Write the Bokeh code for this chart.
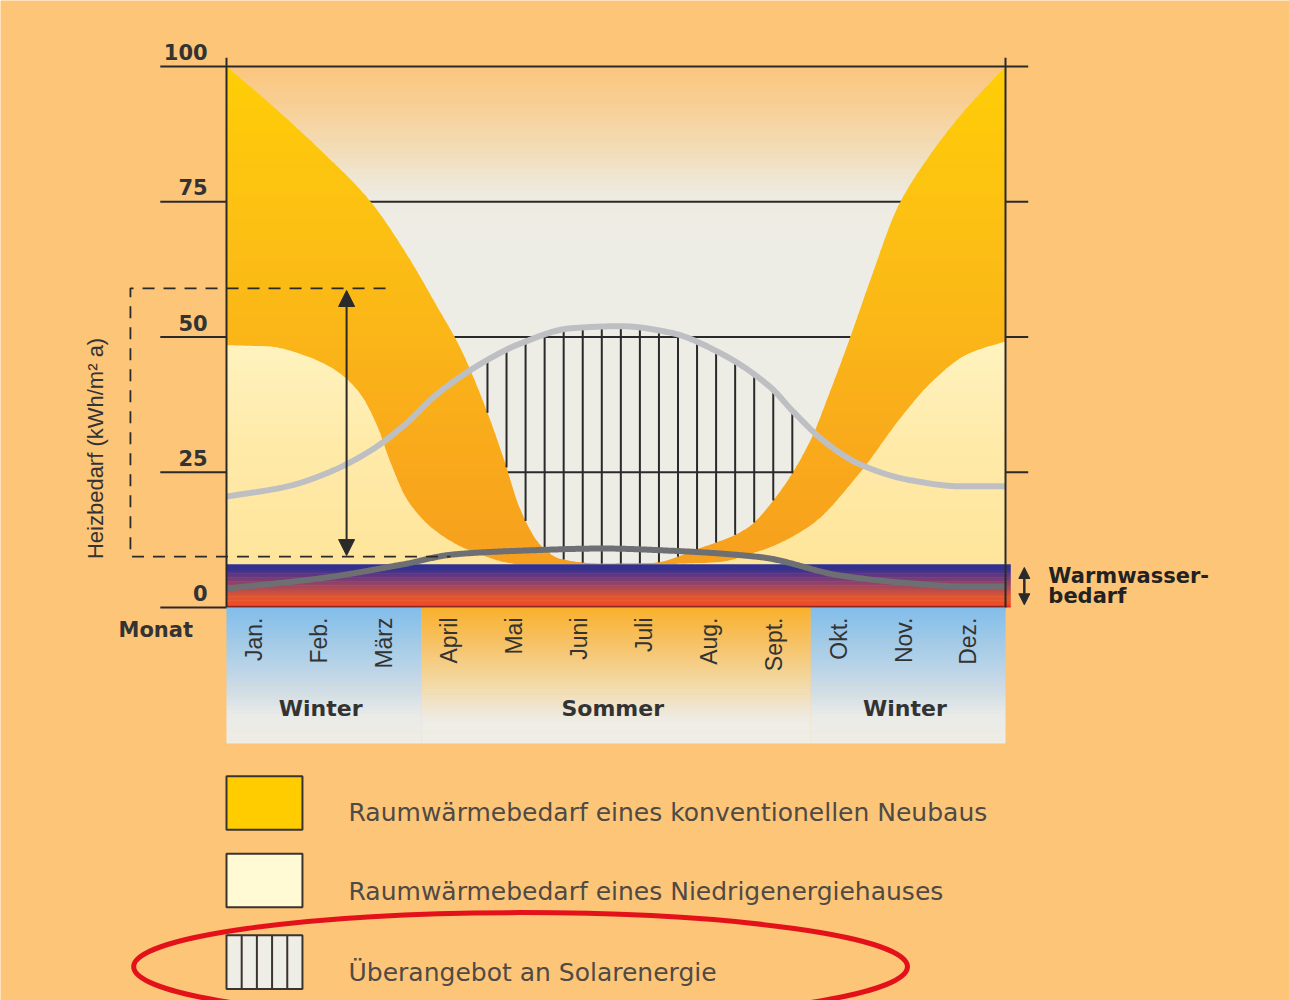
import numpy as np
from bokeh.plotting import figure
from bokeh.models import Arrow, NormalHead
from bokeh.core.properties import value
from bokeh.embed import file_html
from bokeh.resources import INLINE

# ------------------------------------------------------------------ data
months = ["Jan.", "Feb.", "März", "April", "Mai", "Juni", "Juli", "Aug.",
          "Sept.", "Okt.", "Nov.", "Dez."]
season_names = ["Winter", "Sommer", "Winter"]
season_bounds = [0, 3, 9, 12]
tick_values = [0, 25, 50, 75, 100]
tick_labels = ["0", "25", "50", "75", "100"]

# Raumwärmebedarf eines konventionellen Neubaus (x in months from 1 Jan)
neubau_x = [0, 0.68, 1.45, 2.22, 2.79, 3.25, 3.60, 4.02, 4.27, 4.53, 4.84, 5.14,
            5.76, 6.53, 7.30, 8.0, 8.5, 9.0, 9.3, 9.58, 9.92, 10.34, 10.80, 11.31, 12]
neubau_y = [100, 93, 84.5, 75, 65, 55.5, 48, 36, 27.5, 18, 11.5, 9,
            8.1, 8.2, 11, 14.5, 21, 31, 40, 49, 60.6, 74, 83, 91, 100]

# Raumwärmebedarf eines Niedrigenergiehauses
niedrig_x = [0, 0.68, 1.29, 1.71, 2.06, 2.32, 2.52, 2.79, 3.25, 3.76, 4.53, 5.5,
             6.5, 7.5, 8.23, 9.0, 9.77, 10.38, 10.89, 11.41, 12]
niedrig_y = [48.5, 48.2, 46.2, 43.6, 39.5, 33.6, 27, 19.8, 13.9, 10.5, 8, 8,
             8, 8.3, 10.5, 15.2, 25.1, 35, 42, 46.8, 49.2]

# Solarangebot (light grey curve)
solar_x = [0, 0.94, 1.60, 2.22, 2.73, 3.25, 3.91, 4.53, 5.30, 6.07, 6.84, 7.61,
           8.38, 8.73, 9.25, 9.77, 10.55, 11.32, 12]
solar_y = [20.5, 22.4, 25.1, 29, 33.6, 39.5, 45, 48.8, 51.6, 52, 50.8, 47,
           40.7, 36.2, 30.3, 26.4, 23.5, 22.4, 22.4]

# dark grey curve
dunkel_x = [0, 1.45, 2.73, 3.49, 4.53, 5.81, 6.84, 8.23, 9.46, 10.5, 11.32, 12]
dunkel_y = [3.5, 5.4, 8, 9.8, 10.5, 10.9, 10.5, 9.3, 5.9, 4.5, 3.9, 3.9]

warmwasser_top = 8
heizbedarf_bracket = [9.4, 59]

legend_labels = ["Raumwärmebedarf eines konventionellen Neubaus",
                 "Raumwärmebedarf eines Niedrigenergiehauses",
                 "Überangebot an Solarenergie"]
legend_colors = ["#FFCC00", "#FFFAD4", "#EEEDE6"]

# ------------------------------------------------------------------ helpers
def pchip(x, y, xn):
    x = np.asarray(x, float); y = np.asarray(y, float)
    h = np.diff(x); d = np.diff(y) / h
    n = len(x)
    m = np.zeros(n)
    for k in range(1, n - 1):
        if d[k - 1] * d[k] > 0:
            w1 = 2 * h[k] + h[k - 1]; w2 = h[k] + 2 * h[k - 1]
            m[k] = (w1 + w2) / (w1 / d[k - 1] + w2 / d[k])
    m[0] = d[0]; m[-1] = d[-1]
    i = np.clip(np.searchsorted(x, xn) - 1, 0, n - 2)
    t = (xn - x[i]) / h[i]
    h00 = 2 * t**3 - 3 * t**2 + 1; h10 = t**3 - 2 * t**2 + t
    h01 = -2 * t**3 + 3 * t**2; h11 = t**3 - t**2
    return h00 * y[i] + h10 * h[i] * m[i] + h01 * y[i + 1] + h11 * h[i] * m[i + 1]


def hex2rgb(hx):
    return [int(hx[i:i + 2], 16) for i in (1, 3, 5)]


def grad(stops, v):
    stops = sorted(stops)
    pos = [s[0] for s in stops]
    cols = np.array([hex2rgb(s[1]) for s in stops], float)
    rgb = [int(round(np.interp(v, pos, cols[:, j]))) for j in range(3)]
    return "#%02x%02x%02x" % tuple(rgb)


PAGE = "#FDC577"
INK = "#2a2a2a"
NARROW = value("Liberation Sans")
WIDE = value("DejaVu Sans")

# pixel anchors of the reference -> data ranges
W, H = 1289, 1000
px_per_x = (1005 - 226) / 12.0
px_per_y = (607 - 66) / 100.0
x0 = -226 / px_per_x
x1 = x0 + W / px_per_x
y1 = 607 / px_per_y
y0 = y1 - H / px_per_y

p = figure(width=W, height=H, x_range=(x0, x1), y_range=(y0, y1),
           output_backend="svg", toolbar_location=None, min_border=0,
           background_fill_color=PAGE, border_fill_color=PAGE,
           outline_line_color=None)
p.axis.visible = False
p.grid.visible = False

xs = np.linspace(0, 12, 721)
neubau_d = pchip(neubau_x, neubau_y, xs)
niedrig_d = pchip(niedrig_x, niedrig_y, xs)
solar_d = pchip(solar_x, solar_y, xs)
dunkel_d = pchip(dunkel_x, dunkel_y, xs)

# ---- plot background (light, fading into page colour at top)
p.quad(left=[0], right=[12], bottom=[0], top=[100], fill_color="#EEEDE5", line_color=None)
bg_stops = [(68, "#EEEDE5"), (76, "#EEEBE1"), (85, "#F3DCB6"), (93, "#F8CE94"), (100, "#FBC67E")]
lv = np.arange(68, 100, 1.0)
p.quad(left=0, right=12, bottom=lv, top=np.minimum(lv + 1.2, 100),
       fill_color=[grad(bg_stops, v + 0.5) for v in lv], line_color=None)

# ---- horizontal reference lines
p.segment(x0=-1.02, y0=tick_values[1:], x1=12.35, y1=tick_values[1:],
          line_color=INK, line_width=2)

# ---- conventional building (gradient band fill)
conv_stops = [(8, "#F7A01E"), (30, "#F9AA1B"), (55, "#FBB817"), (80, "#FDC410"), (100, "#FFCD05")]
for lo in np.arange(6, 100, 2.0):
    p.varea(x=xs, y1=np.minimum(neubau_d, lo), y2=np.minimum(neubau_d, lo + 2.3),
            fill_color=grad(conv_stops, lo + 1))

# ---- low-energy house
nied_stops = [(8, "#FFE59B"), (30, "#FFEAA9"), (50, "#FFF3C0")]
for lo in np.arange(6, 50, 2.0):
    p.varea(x=xs, y1=np.minimum(niedrig_d, lo), y2=np.minimum(niedrig_d, lo + 2.3),
            fill_color=grad(nied_stops, lo + 1))

# ---- hot water band (blue -> red)
ww_stops = [(0, "#EE1C24"), (0.7, "#F04E23"), (2, "#E0562F"), (4, "#A0465E"),
            (6, "#5E3682"), (7.2, "#33308F"), (8, "#2E3192")]
wl = np.arange(0, warmwasser_top, 0.25)
p.quad(left=0, right=12.08, bottom=wl, top=np.minimum(wl + 0.35, warmwasser_top),
       fill_color=[grad(ww_stops, v + 0.125) for v in wl], line_color=None)

# ---- hatch: solar surplus (solar curve above conventional demand)
hx = np.arange(4.02, 8.75, 0.2935)
h_top = np.interp(hx, xs, solar_d)
h_bot = np.interp(hx, xs, neubau_d)
keep = h_top - h_bot > 1.0
p.segment(x0=hx[keep], y0=h_bot[keep], x1=hx[keep], y1=h_top[keep] - 0.4,
          line_color=INK, line_width=2)

# ---- curves
p.line(xs, solar_d, line_color="#BEBFC3", line_width=6)
p.line(xs, dunkel_d, line_color="#6E6F72", line_width=6)

# ---- axes frame
p.segment(x0=[0, 12], y0=[0, 0], x1=[0, 12], y1=[101.6, 101.6], line_color=INK, line_width=2)
p.segment(x0=[-1.02], y0=[0], x1=[12], y1=[0], line_color=INK, line_width=2)

# ---- month strip with seasons
win_stops = [(0, "#82BDE9"), (-8, "#A9CDE8"), (-16, "#D3DEE6"), (-20, "#EAEBE7"), (-25.2, "#EEEDE6")]
som_stops = [(0, "#F9B12C"), (-6, "#F7C060"), (-14, "#F3D9A5"), (-19, "#EFE7D5"), (-21, "#EEEDE6"), (-25.2, "#EEEDE6")]
sl = np.arange(-25.14, 0, 0.5)
for k, name in enumerate(season_names):
    stops = som_stops if name == "Sommer" else win_stops
    p.quad(left=season_bounds[k], right=season_bounds[k + 1], bottom=sl,
           top=np.minimum(sl + 0.6, 0), fill_color=[grad(stops, v + 0.25) for v in sl],
           line_color=None)

p.text(x=[i + 0.43 for i in range(12)], y=[-1.85] * 12, text=months, angle=np.pi / 2,
       text_align="right", text_baseline="middle", text_color="#333333",
       text_font=NARROW, text_font_size="23px")
p.text(x=[(season_bounds[k] + season_bounds[k + 1]) / 2 - 0.05 for k in range(3)],
       y=[-18.67] * 3, text=season_names, text_align="center", text_baseline="middle",
       text_color="#333333", text_font=WIDE, text_font_style="bold",
       text_font_size="22px")

# ---- y tick labels and titles
p.text(x=[-0.29] * 5, y=[v + 1.2 for v in tick_values], text=tick_labels,
       text_align="right", text_baseline="bottom", text_color="#333333",
       text_font=WIDE, text_font_style="bold", text_font_size="21px")
p.text(x=[-1.09], y=[-4.25], text=["Monat"], text_align="center", text_baseline="middle",
       text_color="#333333", text_font=WIDE, text_font_style="bold",
       text_font_size="21px")
p.text(x=[-2.02], y=[29.4], text=["Heizbedarf (kWh/m² a)"], angle=np.pi / 2,
       text_align="center", text_baseline="middle", text_color="#333333",
       text_font=NARROW, text_font_size="22px")
p.text(x=[12.66, 12.66], y=[5.9, 2.2], text=["Warmwasser-", "bedarf"],
       text_align="left", text_baseline="middle", text_color="#222222",
       text_font=WIDE, text_font_style="bold", text_font_size="21px")

# ---- Heizbedarf bracket and arrows
p.line(x=[2.45, -1.48, -1.48, 3.45],
       y=[heizbedarf_bracket[1], heizbedarf_bracket[1], heizbedarf_bracket[0], heizbedarf_bracket[0]],
       line_color=INK, line_width=1.8, line_dash="12 9")
p.add_layout(Arrow(start=NormalHead(size=16, fill_color=INK, line_color=INK),
                   end=NormalHead(size=16, fill_color=INK, line_color=INK),
                   x_start=1.85, y_start=heizbedarf_bracket[0] + 0.2,
                   x_end=1.85, y_end=heizbedarf_bracket[1] - 0.4,
                   line_color=INK, line_width=2))
p.add_layout(Arrow(start=NormalHead(size=11, fill_color=INK, line_color=INK),
                   end=NormalHead(size=11, fill_color=INK, line_color=INK),
                   x_start=12.29, y_start=0.5, x_end=12.29, y_end=7.4,
                   line_color=INK, line_width=2.5))

# ---- legend
box_top = [-31.2, -45.5, -60.6]
box_h = 9.9
p.quad(left=0, right=1.17, top=box_top, bottom=[t - box_h for t in box_top],
       fill_color=legend_colors, line_color="#3a3330", line_width=2)
sx = np.linspace(0, 1.17, 6)[1:-1]
p.segment(x0=sx, y0=box_top[2], x1=sx, y1=box_top[2] - box_h, line_color="#3a3330", line_width=2)
p.text(x=[1.88] * 3, y=[-37.9, -52.5, -67.5], text=legend_labels, text_align="left",
       text_baseline="middle", text_color="#4f4a45", text_font=WIDE,
       text_font_size="25px")

# red highlight ellipse
p.ellipse(x=[4.53], y=[-66.4], width=[11.92], height=[20.0], fill_color=None,
          line_color="#E3121A", line_width=5)

open("out.html", "w").write(file_html(p, INLINE))
